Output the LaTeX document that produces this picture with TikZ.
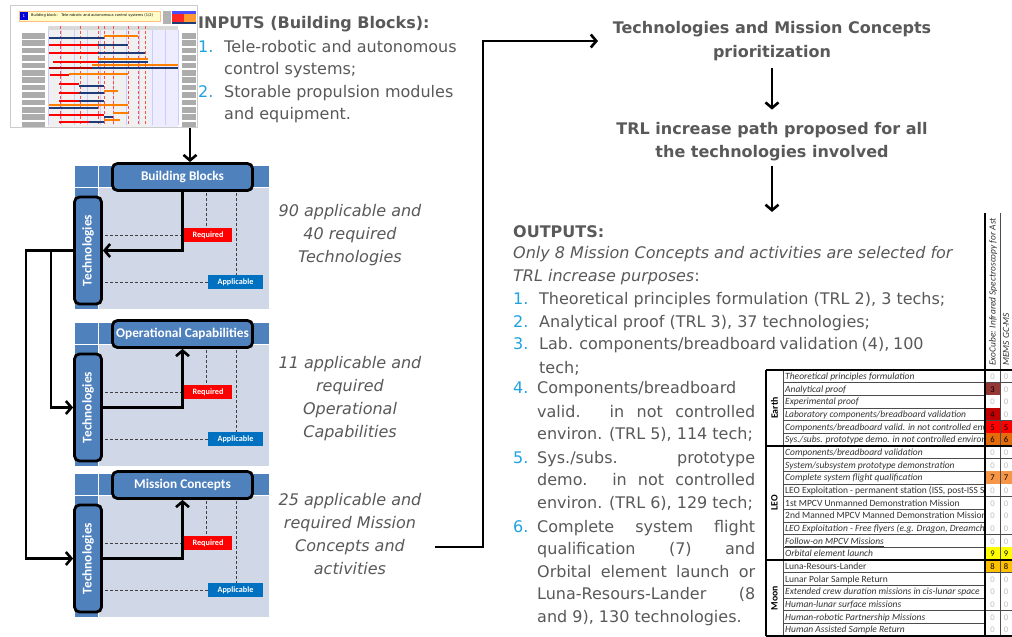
\documentclass[tikz,border=0pt]{standalone}
\usepackage{fontspec}
\usepackage{graphicx}
\setmainfont{DejaVu Sans}
\newfontfamily\calfont{Carlito}
\usetikzlibrary{arrows.meta}
\definecolor{txtgrey}{HTML}{595959}
\definecolor{numblue}{HTML}{1FA2E0}
\definecolor{hdrblue}{HTML}{4F81BD}
\definecolor{panelbg}{HTML}{D0D8E8}
\definecolor{reqred}{HTML}{FF0000}
\definecolor{appblue}{HTML}{0070C0}
\definecolor{cRthree}{HTML}{953735}
\definecolor{cRfour}{HTML}{C00000}
\definecolor{cRfive}{HTML}{FF0000}
\definecolor{cRsix}{HTML}{E46C0A}
\definecolor{cRseven}{HTML}{F79646}
\definecolor{cRnine}{HTML}{FFFF00}
\definecolor{cReight}{HTML}{FFC000}
\definecolor{navybar}{HTML}{1F3C78}
\newcommand\mainsz{\fontsize{16}{22.8}\selectfont}
\newcommand\jl[1]{\makebox[218pt][s]{#1}}
\newcommand\jm[1]{\makebox[216pt][s]{#1}}
\newcommand\zc{\textcolor{black!25}{0}}
\newcommand\thbar[4]{\fill[#1] (#2,#4-1.2) rectangle (#3,#4+1.2);}
\newcommand\trow[6]{%
  \pgfmathsetmacro\ry{370+12.667*(#1-1)}%
  \pgfmathsetmacro\rb{\ry+12.667}%
  \fill[#4] (985,\ry) rectangle (1000,\rb);
  \fill[#6] (1000,\ry) rectangle (1012,\rb);
  \begin{scope}
    \clip (783,\ry) rectangle (984,\rb);
    \node[rowtxt] (r#1) at (785,\ry+9.6) {#2};
  \end{scope}
  \node[cell] (c#1a) at (992.5,\ry+6.6) {#3};
  \node[cell] (c#1b) at (1006,\ry+6.6) {#5};
  \draw[tline] (783,\rb) -- (1012,\rb);
}
\tikzset{
  txt/.style={font=\mainsz, text=txtgrey, inner sep=0pt, anchor=base west},
  txtb/.style={txt, font=\mainsz\bfseries},
  num/.style={txt, text=numblue},
  ann/.style={font=\mainsz\itshape, text=txtgrey, inner sep=0pt, anchor=base},
  ttl/.style={font=\mainsz\bfseries, text=txtgrey, inner sep=0pt, anchor=base},
  arr/.style={line width=2.6pt, -{Straight Barb[length=5.5pt,width=13pt]}},
  dline/.style={densely dashed, line width=0.6pt, color=black!75},
  reqbox/.style={fill=reqred, text=white, font=\calfont\bfseries\fontsize{8.2}{9}\selectfont, minimum width=48, minimum height=14, inner sep=0pt},
  appbox/.style={fill=appblue, text=white, font=\calfont\bfseries\fontsize{8.2}{9}\selectfont, minimum width=55, minimum height=14, inner sep=0pt},
  hbox/.style={rounded corners=5pt, draw=black, line width=2.8pt, fill=hdrblue, text=white, font=\calfont\bfseries\fontsize{13.3}{15}\selectfont, minimum width=140, minimum height=27, inner sep=0pt},
  techbox/.style={rounded corners=5pt, draw=black, line width=2.8pt, fill=hdrblue, text=white, font=\calfont\bfseries\fontsize{13.3}{15}\selectfont, minimum width=27, minimum height=107, inner sep=0pt},
  rowtxt/.style={font=\calfont\fontsize{9.5}{10}\selectfont, text=black!80, anchor=base west, inner sep=0pt},
  cell/.style={font=\calfont\fontsize{8.6}{9}\selectfont, inner sep=0pt},
  cat/.style={font=\calfont\bfseries\fontsize{9.8}{10}\selectfont, inner sep=0pt},
  colhdr/.style={font=\calfont\itshape\fontsize{9.4}{10}\selectfont, text=black!80, inner sep=0pt},
  tline/.style={line width=0.5pt, color=black!70},
  tthick/.style={line width=1.3pt, color=black}
}
\begin{document}
\begin{tikzpicture}[x=1pt,y=-1pt]
\useasboundingbox (0,0) rectangle (1012,637);
\fill[white] (0,0) rectangle (1012,637);

% ---------- thumbnail ----------
\fill[white] (10,5) rectangle (197,127);
\draw[gray!40, line width=0.3pt] (10,5) rectangle (197,127);
\fill[yellow!22] (19,11) rectangle (160,21);
\draw[orange!50, line width=0.3pt] (19,11) rectangle (160,21);
\fill[blue!85!black] (20,12) rectangle (28,20);
\node[font=\fontsize{4}{4}\selectfont, text=white, inner sep=0pt] (thnum) at (24,16) {1};
\node[font=\fontsize{3.6}{4}\selectfont, anchor=west, inner sep=0pt] (thtitle) at (31,16) {Building block:\quad Tele-robotic and autonomous control systems (1/2)};
\fill[gray!60] (163,11) rectangle (171,24);
\fill[blue!70] (172,11) rectangle (196,14);
\fill[red!85] (172,14) rectangle (184,22);
\fill[orange!80] (184,14) rectangle (196,22);
\fill[navybar] (172,22) rectangle (196,24);
\fill[gray!12] (48,26) rectangle (178,127);
\fill[blue!7] (150,26) rectangle (178,127);
\fill[gray!30] (48,26) rectangle (178,30);
\foreach \x in {48,61,...,178} \draw[blue!20, line width=0.3pt] (\x,30) -- (\x,125);
\foreach \x in {60,80,98,104,113,128,138,145} \draw[red!70, densely dashed, line width=0.3pt] (\x,26) -- (\x,125);
\foreach \i in {0,...,12} {
  \pgfmathsetmacro\yy{33+7.4*\i}
  \fill[gray!65] (22,\yy) rectangle (45,\yy+5.5);
  \fill[gray!65] (182,\yy) rectangle (196,\yy+5.5);
}
\thbar{navybar}{49}{104}{38}\thbar{orange}{104}{138}{36}
\thbar{red}{49}{98}{45}\thbar{navybar}{98}{128}{45}
\thbar{red}{49}{98}{53}\thbar{navybar}{98}{145}{53}
\thbar{red}{53}{98}{62}\thbar{orange}{98}{148}{59}\thbar{navybar}{98}{148}{62}
\thbar{red!70!black}{49}{92}{68}\thbar{orange}{92}{178}{65}\thbar{navybar}{92}{178}{68}
\thbar{red}{50}{69}{75}\thbar{orange}{69}{128}{74}
\thbar{red}{59}{79}{84}\thbar{navybar}{79}{104}{86}
\thbar{red}{59}{79}{93}\thbar{navybar}{79}{104}{93}\thbar{orange}{104}{118}{91}
\thbar{red}{59}{79}{101}\thbar{navybar}{79}{104}{101}
\thbar{orange}{49}{128}{105}\thbar{navybar}{49}{98}{108}
\thbar{red}{49}{104}{115}\thbar{navybar}{104}{113}{117}\thbar{orange}{113}{128}{113}
\thbar{red}{59}{89}{122}\thbar{navybar}{89}{104}{122}\thbar{orange}{104}{120}{120}
\coordinate (thb) at (190,128);

% ---------- inputs text ----------
\node[txtb] (inh) at (198,28) {INPUTS (Building Blocks):};
\node[num] (in1n) at (198,52) {1.};
\node[txt] (in1a) at (224,52) {Tele-robotic and autonomous};
\node[txt] (in1b) at (224,74) {control systems;};
\node[num] (in2n) at (198,97) {2.};
\node[txt] (in2a) at (224,97) {Storable propulsion modules};
\node[txt] (in2b) at (224,119) {and equipment.};

% ---------- panels ----------
\foreach \i/\T in {1/166,2/323,3/474}{
  \fill[panelbg] (75,\T) rectangle (269,\T+143);
  \fill[hdrblue] (75,\T) rectangle (269,\T+21);
  \fill[hdrblue] (75,\T+21) rectangle (98,\T+143);
  \draw[white,line width=1.2pt] (98.8,\T) -- (98.8,\T+143);
  \draw[white,line width=1.2pt] (75,\T+21.6) -- (269,\T+21.6);
  \node[reqbox] (req\i) at (208,\T+69) {Required};
  \node[appbox] (app\i) at (235.5,\T+116) {Applicable};
  \draw[dline] (206,\T+22) -- (206,\T+62);
  \draw[dline] (236,\T+22) -- (236,\T+109);
  \draw[dline] (100,\T+69) -- (req\i.west);
  \draw[dline] (100,\T+116) -- (app\i.west);
}
\node[hbox] (bb) at (182.5,177) {Building Blocks};
\node[hbox] (oc) at (182.5,334) {Operational Capabilities};
\node[hbox] (mc) at (182.5,485) {Mission Concepts};
\node[techbox] (tech1) at (88,250.5) {\rotatebox{90}{Technologies}};
\node[techbox] (tech2) at (88,407.5) {\rotatebox{90}{Technologies}};
\node[techbox] (tech3) at (88,558.5) {\rotatebox{90}{Technologies}};

\draw[arr] (thb) -- (thb |- bb.north);
\draw[arr] (bb.south) |- (tech1.east);
\draw[arr] (tech2.east) -| (oc.south);
\draw[arr] (tech3.east) -| (mc.south);
\coordinate (lpa) at (26,250.5);
\coordinate (lpb) at (51,250.5);
\draw[arr] (tech1.west) -- (lpa) |- (tech3.west);
\draw[arr] (lpb) |- (tech2.west);

% ---------- annotations ----------
\node[ann] (a1a) at (350,216) {90 applicable and};
\node[ann] (a1b) at (350,239) {40 required};
\node[ann] (a1c) at (350,262) {Technologies};
\node[ann] (a2a) at (350,368) {11 applicable and};
\node[ann] (a2b) at (350,391) {required};
\node[ann] (a2c) at (350,414) {Operational};
\node[ann] (a2d) at (350,437) {Capabilities};
\node[ann] (a3a) at (350,505) {25 applicable and};
\node[ann] (a3b) at (350,528) {required Mission};
\node[ann] (a3c) at (350,551) {Concepts and};
\node[ann] (a3d) at (350,574) {activities};

% ---------- top right ----------
\node[ttl] (p1) at (772,34) {Technologies and Mission Concepts};
\node[ttl] (p2) at (772,57) {prioritization};
\node[ttl] (t1) at (772,134) {TRL increase path proposed for all};
\node[ttl] (t2) at (772,157) {the technologies involved};
\coordinate (bstart) at (435,547);
\coordinate (bend) at (598,41);
\draw[arr] (bstart) -- (483,547) |- (bend);
\draw[arr, shorten <=7pt, shorten >=12pt] (p2.south) -- (t1.north);

% ---------- outputs ----------
\node[txtb] (outh) at (513,237) {OUTPUTS:};
\draw[arr, shorten <=5pt, shorten >=13pt] (t2.south) -- (t2.south |- outh.north);
\node[txt] (o0a) at (513,258) {\itshape Only 8 Mission Concepts and activities are selected for};
\node[txt] (o0b) at (513,281) {\itshape TRL increase purposes\upshape:};
\node[num] (o1n) at (513,304) {1.};
\node[txt] (o1) at (539,304) {Theoretical principles formulation (TRL 2), 3 techs;};
\node[num] (o2n) at (513,327) {2.};
\node[txt] (o2) at (539,327) {Analytical proof (TRL 3), 37 technologies;};
\node[num] (o3n) at (513,349) {3.};
\node[txt] (o3a) at (539,349) {\jm{Lab. components/breadboard validation (4), 100}};
\node[txt] (o3b) at (539,373) {tech;};
\node[num] (o4n) at (513,393) {4.};
\node[txt] (o4a) at (537,393) {Components/breadboard};
\node[txt] (o4b) at (537,417) {\jl{valid. in not controlled}};
\node[txt] (o4c) at (537,439) {environ. (TRL 5), 114 tech;};
\node[num] (o5n) at (513,463) {5.};
\node[txt] (o5a) at (537,463) {\jl{Sys./subs. prototype}};
\node[txt] (o5b) at (537,485) {\jl{demo. in not controlled}};
\node[txt] (o5c) at (537,508) {environ. (TRL 6), 129 tech;};
\node[num] (o6n) at (513,532) {6.};
\node[txt] (o6a) at (537,532) {\jl{Complete system flight}};
\node[txt] (o6b) at (537,554) {\jl{qualification (7) and}};
\node[txt] (o6c) at (537,577) {\jl{Orbital element launch or}};
\node[txt] (o6d) at (537,599) {\jl{Luna-Resours-Lander (8}};
\node[txt] (o6e) at (537,622) {and 9), 130 technologies.};

% ---------- table ----------
\fill[white] (766,370) rectangle (1012,636);
\trow{1}{\itshape Theoretical principles formulation}{\zc}{white}{\zc}{white}
\trow{2}{\itshape Analytical proof}{3}{cRthree}{\zc}{white}
\trow{3}{\itshape Experimental proof}{\zc}{white}{\zc}{white}
\trow{4}{\itshape Laboratory components/breadboard validation}{4}{cRfour}{\zc}{white}
\trow{5}{\itshape Components/breadboard valid. in not controlled env}{5}{cRfive}{5}{cRfive}
\trow{6}{\itshape Sys./subs. prototype demo. in not controlled environ.}{6}{cRsix}{6}{cRsix}
\trow{7}{\itshape Components/breadboard validation}{\zc}{white}{\zc}{white}
\trow{8}{\itshape System/subsystem prototype demonstration}{\zc}{white}{\zc}{white}
\trow{9}{\itshape Complete system flight qualification}{7}{cRseven}{7}{cRseven}
\trow{10}{LEO Exploitation - permanent station (ISS, post-ISS S}{\zc}{white}{\zc}{white}
\trow{11}{1st MPCV Unmanned Demonstration Mission}{\zc}{white}{\zc}{white}
\trow{12}{2nd Manned MPCV Manned Demonstration Mission}{\zc}{white}{\zc}{white}
\trow{13}{\itshape\underline{LEO Exploitation - Free flyers (e.g. Dragon, Dreamcha}}{\zc}{white}{\zc}{white}
\trow{14}{\itshape\underline{Follow-on MPCV Missions}}{\zc}{white}{\zc}{white}
\trow{15}{\itshape Orbital element launch}{9}{cRnine}{9}{cRnine}
\trow{16}{Luna-Resours-Lander}{8}{cReight}{8}{cReight}
\trow{17}{Lunar Polar Sample Return}{\zc}{white}{\zc}{white}
\trow{18}{\itshape\underline{Extended crew duration missions in cis-lunar space}}{\zc}{white}{\zc}{white}
\trow{19}{\itshape\underline{Human-lunar surface missions}}{\zc}{white}{\zc}{white}
\trow{20}{\itshape\underline{Human-robotic Partnership Missions}}{\zc}{white}{\zc}{white}
\trow{21}{\itshape Human Assisted Sample Return}{\zc}{white}{\zc}{white}
\draw[tline] (783,370) -- (783,636);
\draw[tline] (1000,213) -- (1000,636);
\draw[tthick] (766,370) -- (766,636);
\draw[tthick] (985,213) -- (985,636);
\draw[tthick] (766,370) -- (1012,370);
\draw[tthick] (766,446) -- (1012,446);
\draw[tthick] (766,560) -- (1012,560);
\draw[tthick] (766,636) -- (1012,636);
\node[cat] (catE) at (774.5,408) {\rotatebox{90}{Earth}};
\node[cat] (catL) at (774.5,503) {\rotatebox{90}{LEO}};
\node[cat] (catM) at (774.5,598) {\rotatebox{90}{Moon}};
\begin{scope}
  \clip (985.5,213) rectangle (999.5,369);
  \node[colhdr, anchor=base west, rotate=90] (h1) at (995.5,366) {ExoCube: Infrared Spectroscopy for Ast};
\end{scope}
\begin{scope}
  \clip (1000.5,213) rectangle (1012,369);
  \node[colhdr, anchor=base west, rotate=90] (h2) at (1009,366) {MEMS GC-MS};
\end{scope}
\end{tikzpicture}
\end{document}
